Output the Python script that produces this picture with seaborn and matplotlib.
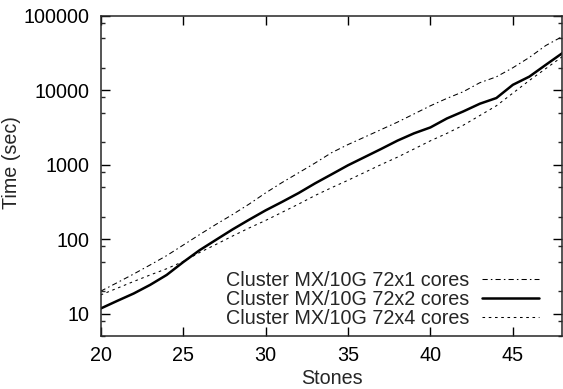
import numpy as np
import pandas as pd
import matplotlib
matplotlib.use("Agg")
import matplotlib.pyplot as plt
import seaborn as sns
from matplotlib.ticker import FixedLocator, LogLocator, NullFormatter, FuncFormatter

stones = list(range(20, 49))
labels = ["Cluster MX/10G 72x1 cores", "Cluster MX/10G 72x2 cores", "Cluster MX/10G 72x4 cores"]
time_72x1 = [20, 26, 34, 45, 60, 83, 115, 158, 214, 295, 417, 575, 776, 1050, 1445,
             1860, 2340, 2950, 3720, 4790, 6170, 7760, 9550, 12600, 15100, 20000, 27500, 39800, 52500]
time_72x2 = [11.7, 14.8, 18.6, 24.3, 33, 49, 71, 98, 135, 182, 243, 316, 415, 560, 740,
             980, 1260, 1620, 2100, 2630, 3160, 4170, 5190, 6580, 7840, 11800, 15200, 21900, 31400]
time_72x4 = [17.8, 21.9, 27, 33, 40, 50, 66, 85, 110, 141, 178, 229, 295, 385, 490,
             617, 785, 1000, 1260, 1620, 2090, 2630, 3390, 4570, 6170, 9120, 13500, 19500, 28200]
x_ticks = [20, 25, 30, 35, 40, 45]
y_ticks = [10, 100, 1000, 10000, 100000]

FS = 14.2
sns.set_style("ticks")
plt.rcParams['font.family'] = ['Liberation Sans', 'DejaVu Sans']
plt.rcParams['font.size'] = FS

fig = plt.figure(figsize=(5.63, 3.89), dpi=100)
ax = fig.add_axes([100.7/563, 1-336/389, (562.3-100.7)/563, (336-15.7)/389])

styles = [dict(lw=0.75, linestyle=(0, (5, 3, 1.5, 3))),
          dict(lw=1.8, linestyle='-'),
          dict(lw=0.75, linestyle=(0, (2.5, 3.5)))]
for lab, vals, st in zip(labels, [time_72x1, time_72x2, time_72x4], styles):
    df = pd.DataFrame({"Stones": stones, "Time": vals})
    sns.lineplot(data=df, x="Stones", y="Time", ax=ax, color="black", label=lab, **st)

ax.set_yscale("log")
ax.set_xlim(20, 48)
ax.set_ylim(5, 100000)
ax.xaxis.set_major_locator(FixedLocator(x_ticks))
ax.yaxis.set_major_locator(FixedLocator(y_ticks))
ax.yaxis.set_major_formatter(FuncFormatter(lambda v, p: f"{int(round(v))}"))
ax.yaxis.set_minor_locator(LogLocator(base=10, subs=(2, 5, 8)))
ax.yaxis.set_minor_formatter(NullFormatter())
ax.xaxis.set_minor_locator(FixedLocator([]))

for s in ax.spines.values():
    s.set_linewidth(1.1)
    s.set_visible(True)
ax.tick_params(which='major', direction='in', length=6.3, width=1.0, top=True, right=True,
               labelsize=FS, color='black', labelcolor='black')
ax.tick_params(axis='x', which='major', pad=7)
ax.tick_params(axis='y', which='major', pad=8)
ax.tick_params(which='minor', direction='in', length=3.2, width=1.0, left=True, right=True)

ax.set_xlabel("Stones", fontsize=FS, labelpad=3)
ax.set_ylabel("Time (sec)", fontsize=FS)
ax.yaxis.set_label_coords(-0.172, 0.54)

leg = ax.legend(loc='lower right', bbox_to_anchor=(539/563, 1-328/389),
                bbox_transform=fig.transFigure, frameon=False, markerfirst=False,
                handlelength=2.9, handletextpad=0.65, labelspacing=0.0,
                borderpad=0, borderaxespad=0, fontsize=FS)

fig.savefig("out.png", dpi=100)
